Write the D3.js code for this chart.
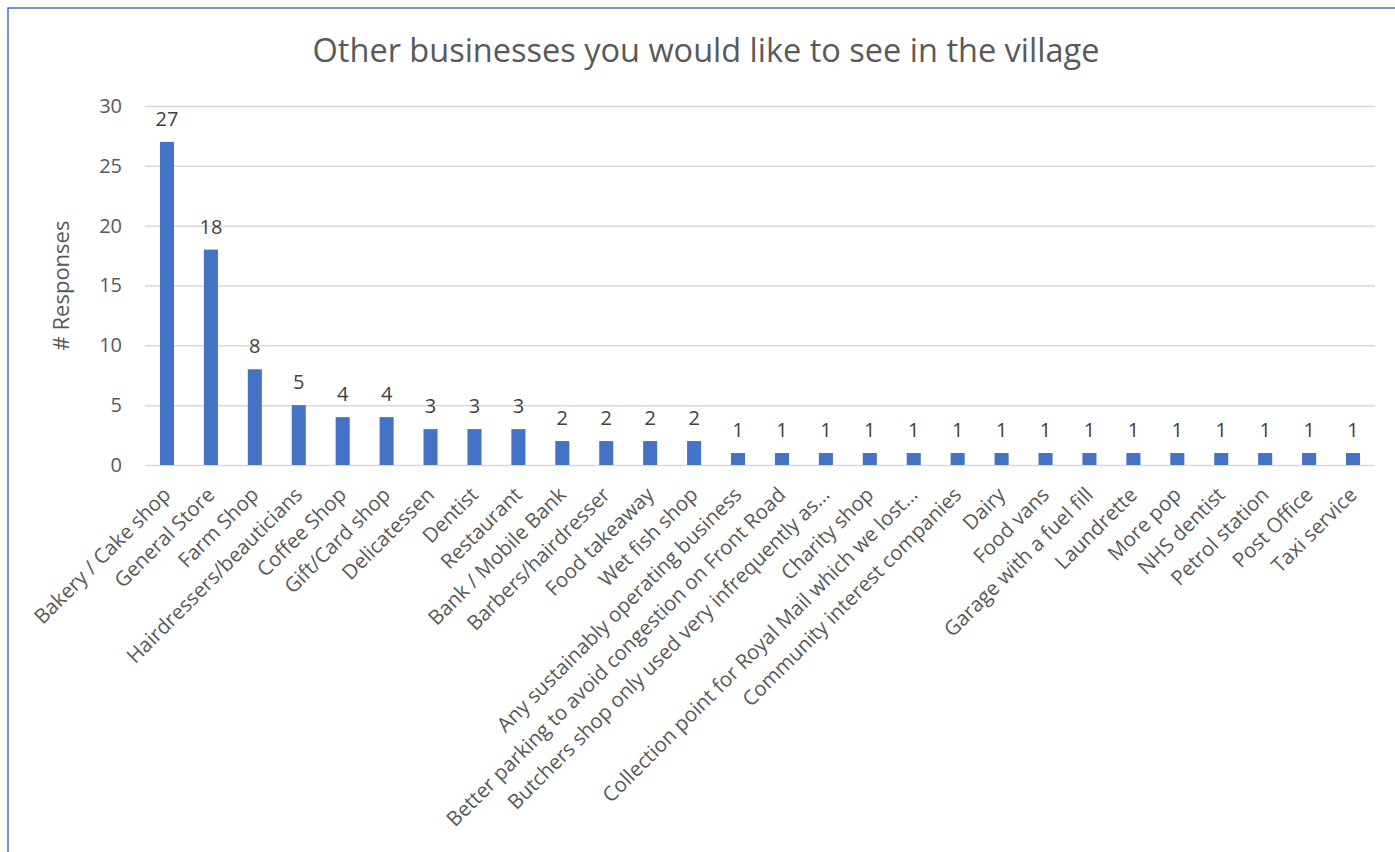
<!DOCTYPE html>
<html>
<head>
<meta charset="utf-8">
<script src="https://cdn.jsdelivr.net/npm/d3@7"></script>
<style>
  body { margin: 0; background: #fff; }
  svg { display: block; font-family: 'Open Sans', sans-serif; }
</style>
</head>
<body>
<div id="chart"></div>
<script>
// chart data
var categories = [
  'Bakery / Cake shop', 'General Store', 'Farm Shop', 'Hairdressers/beauticians',
  'Coffee Shop', 'Gift/Card shop', 'Delicatessen', 'Dentist', 'Restaurant',
  'Bank / Mobile Bank', 'Barbers/hairdresser', 'Food takeaway', 'Wet fish shop',
  'Any sustainably operating business', 'Better parking to avoid congestion on Front Road',
  'Butchers shop only used very infrequently as\u2026', 'Charity shop',
  'Collection point for Royal Mail which we lost\u2026', 'Community interest companies',
  'Dairy', 'Food vans', 'Garage with a fuel fill', 'Laundrette', 'More pop',
  'NHS dentist', 'Petrol station', 'Post Office', 'Taxi service'
]
var responses = [27, 18, 8, 5, 4, 4, 3, 3, 3, 2, 2, 2, 2, 1, 1, 1, 1, 1, 1, 1, 1, 1, 1, 1, 1, 1, 1, 1]
var yTicks = [0, 5, 10, 15, 20, 25, 30]

var chart = {}
chart.width = 1395
chart.height = 852
chart.left = 145
chart.right = 1375
chart.top = 106
chart.bottom = 465

var svg = d3.select('#chart')
  .append('svg')
  .attr('width', chart.width)
  .attr('height', chart.height)

// outer frame (only top and left edges are visible in the picture)
svg.append('path')
  .attr('d', 'M8,' + chart.height + 'V8H' + chart.width)
  .attr('fill', 'none')
  .attr('stroke', '#4472C4')
  .attr('stroke-width', 1.5)

// scales
chart.x = d3.scaleBand().domain(categories).range([chart.left, chart.right]).paddingInner(0.68).paddingOuter(0.34)
chart.y = d3.scaleLinear().domain([0, 30]).range([chart.bottom, chart.top])

// title
svg.append('text')
  .attr('x', 706)
  .attr('y', 62)
  .attr('text-anchor', 'middle')
  .attr('font-size', 32.5)
  .attr('fill', '#595959')
  .text('Other businesses you would like to see in the village')

// gridlines + y tick labels
var yAxis = d3.axisLeft(chart.y).tickValues(yTicks).tickSize(-(chart.right - chart.left)).tickPadding(23)
var gy = svg.append('g')
  .attr('transform', 'translate(' + chart.left + ',0)')
  .call(yAxis)
gy.select('.domain').remove()
gy.selectAll('.tick line').attr('stroke', '#d9d9d9').attr('stroke-width', 1.5)
gy.selectAll('.tick text')
  .attr('font-size', 20)
  .attr('fill', '#595959')
  .attr('font-family', "'Open Sans', sans-serif")

// y axis title
svg.append('text')
  .attr('transform', 'translate(69,' + ((chart.top + chart.bottom) / 2) + ') rotate(-90)')
  .attr('text-anchor', 'middle')
  .attr('font-size', 22)
  .attr('fill', '#595959')
  .text('# Responses')

// bars
svg.append('g')
  .selectAll('rect')
  .data(responses)
  .enter()
  .append('rect')
  .attr('x', function (d, i) { return chart.x(categories[i]) })
  .attr('y', function (d) { return chart.y(d) })
  .attr('width', chart.x.bandwidth())
  .attr('height', function (d) { return chart.y(0) - chart.y(d) })
  .attr('fill', '#4472C4')

// value labels
svg.append('g')
  .selectAll('text')
  .data(responses)
  .enter()
  .append('text')
  .attr('x', function (d, i) { return chart.x(categories[i]) + chart.x.bandwidth() / 2 })
  .attr('y', function (d) { return chart.y(d) - 16 })
  .attr('text-anchor', 'middle')
  .attr('font-size', 20)
  .attr('fill', '#404040')
  .text(function (d) { return d })

// category labels, rotated 45 degrees
svg.append('g')
  .selectAll('text')
  .data(categories)
  .enter()
  .append('text')
  .attr('transform', function (d) {
    var cx = chart.x(d) + chart.x.bandwidth() / 2 + 5
    return 'translate(' + cx + ',' + (chart.bottom + 31) + ') rotate(-45)'
  })
  .attr('text-anchor', 'end')
  .attr('font-size', 20.5)
  .attr('fill', '#595959')
  .text(function (d) { return d })
</script>
</body>
</html>
